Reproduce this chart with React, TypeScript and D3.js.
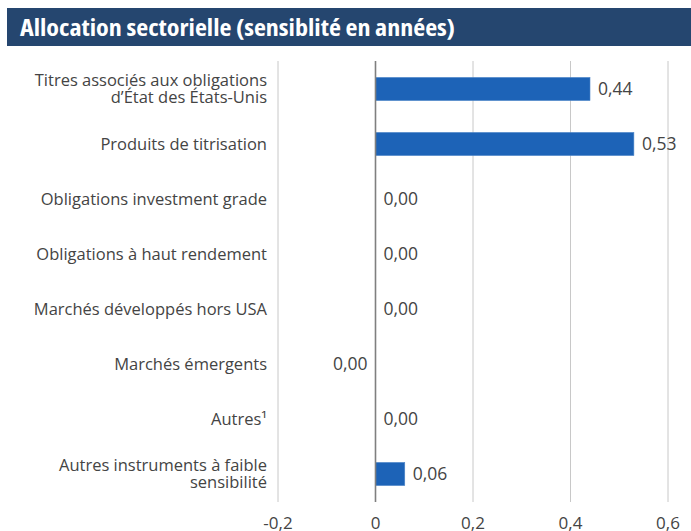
import React, { useEffect } from "react";
import * as d3 from "d3";

const categories: string[][] = [
  ["Titres associés aux obligations", "d’État des États-Unis"],
  ["Produits de titrisation"],
  ["Obligations investment grade"],
  ["Obligations à haut rendement"],
  ["Marchés développés hors USA"],
  ["Marchés émergents"],
  ["Autres¹"],
  ["Autres instruments à faible", "sensibilité"],
];
const values: number[] = [0.44, 0.53, 0.0, 0.0, 0.0, -0.0001, 0.0, 0.06];
const valueLabels: string[] = ["0,44", "0,53", "0,00", "0,00", "0,00", "0,00", "0,00", "0,06"];
const ticks: number[] = [-0.2, 0, 0.2, 0.4, 0.6];
const title = "Allocation sectorielle (sensiblité en années)";

export default function App() {
  useEffect(() => {
    document.body.style.margin = "0";
  }, []);
  const W = 691, H = 531;
  const x = d3.scaleLinear().domain([-0.2, 0.6]).range([278, 668]);
  const y = d3.scaleBand<number>().domain(d3.range(categories.length)).range([61.5, 501.5]).paddingInner(0.58).paddingOuter(0.29);
  const font = "'Open Sans', sans-serif";
  const fmt = (v: number) => String(v).replace(".", ",");
  return (
    <svg width={W} height={H} style={{ display: "block" }} fontFamily={font}>
      <rect x={7} y={8} width={W - 7} height={38} fill="#25466F" />
      <text x={20} y={35.5} fill="#fff" fontSize={22.5} fontWeight={700} style={{ fontStretch: "condensed" }} textLength={435} lengthAdjust="spacingAndGlyphs">{title}</text>
      {ticks.map((t) => (
        <g key={t}>
          {t !== 0 && <line x1={x(t)} x2={x(t)} y1={61} y2={502} stroke="#c8c8c8" strokeWidth={1} />}
          <text x={x(t)} y={529} textAnchor="middle" fontSize={17} fill="#444">{fmt(t)}</text>
        </g>
      ))}
      {values.map((v, i) => {
        const y0 = y(i)!;
        const bw = y.bandwidth();
        const cy = y0 + bw / 2;
        const x0 = x(Math.min(0, v));
        const w = Math.abs(x(v) - x(0));
        return (
          <g key={i}>
            {w > 0.5 && <rect x={x0} y={y0} width={w} height={bw} fill="#1D63B7" stroke="#4d86c9" strokeWidth={0.6} />}
            <text x={v < 0 ? x(v) - 8 : x(v) + 8} y={cy} dy="0.35em" textAnchor={v < 0 ? "end" : "start"} fontSize={17.5} fill="#444">{valueLabels[i]}</text>
            <text x={267} y={cy} textAnchor="end" fontSize={16.5} fill="#444">
              {categories[i].map((l, j) => (
                <tspan key={j} x={267} dy={j === 0 ? (categories[i].length === 1 ? "0.35em" : "-0.2em") : "1.05em"}>{l}</tspan>
              ))}
            </text>
          </g>
        );
      })}
      <line x1={x(0)} x2={x(0)} y1={61} y2={502} stroke="#7f7f7f" strokeWidth={1.6} />
    </svg>
  );
}
